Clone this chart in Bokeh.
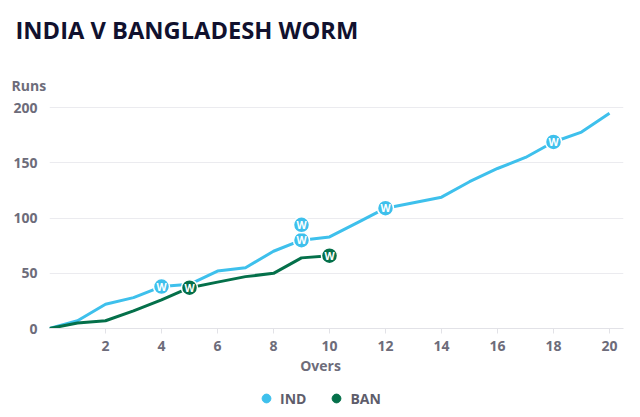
from bokeh.plotting import figure
from bokeh.layouts import column
from bokeh.models import (Legend, LegendItem, ColumnDataSource, FixedTicker, Range1d, Title, Label)
from bokeh.embed import file_html
from bokeh.resources import INLINE
from bokeh.core.properties import value

# ---- data ----
title_text = "INDIA V BANGLADESH WORM"
x_title = "Overs"
y_title = "Runs"
series_names = ["IND", "BAN"]

overs = list(range(0, 21))
ind_runs = [0, 7, 22, 28, 38, 40, 52, 55, 70, 80, 83, 96, 109, 114, 119, 133, 145, 155, 169, 178, 195]
ban_overs = list(range(0, 11))
ban_runs = [0, 5, 7, 16, 26, 37, 42, 47, 50, 64, 66]

ind_wkt_overs = [4, 9, 9, 12, 18]
ind_wkt_runs = [38, 80, 94, 109, 169]
ban_wkt_overs = [5, 10]
ban_wkt_runs = [37, 66]
wkt_label = "W"

x_ticks = [2, 4, 6, 8, 10, 12, 14, 16, 18, 20]
y_ticks = [0, 50, 100, 150, 200]

# ---- styles ----
IND_COLOR = "#3ec0ec"
BAN_COLOR = "#04704a"
GREY = "#6d6c7a"
TITLE_COLOR = "#11112e"
FONT = "Open Sans"

xr = Range1d(0, 20.5)

# ================= main chart =================
p = figure(width=640, height=354,
           x_range=xr, y_range=Range1d(0, 206.6),
           output_backend="svg", toolbar_location=None,
           min_border_left=49, min_border_right=17,
           min_border_top=100, min_border_bottom=26)
p.outline_line_color = None
p.background_fill_color = "white"
p.border_fill_color = "white"

p.xgrid.grid_line_color = None
p.ygrid.ticker = FixedTicker(ticks=y_ticks)
p.ygrid.grid_line_color = "#ebebef"
p.ygrid.grid_line_width = 1

xa = p.xaxis[0]
xa.ticker = FixedTicker(ticks=x_ticks)
xa.axis_line_color = "#e2e2e7"
xa.major_tick_line_color = "#e2e2e7"
xa.major_tick_out = 5
xa.major_tick_in = 0
xa.minor_tick_line_color = None
xa.major_label_standoff = 7
xa.major_label_text_font = FONT
xa.major_label_text_font_style = "bold"
xa.major_label_text_font_size = "14px"
xa.major_label_text_color = GREY

ya = p.yaxis[0]
ya.ticker = FixedTicker(ticks=y_ticks)
ya.axis_line_color = None
ya.major_tick_line_color = None
ya.minor_tick_line_color = None
ya.major_label_standoff = 6
ya.major_label_text_font = FONT
ya.major_label_text_font_style = "bold"
ya.major_label_text_font_size = "14px"
ya.major_label_text_color = GREY

# lines
p.line(x=overs, y=ind_runs, line_width=3, line_color=IND_COLOR, line_join="round")
p.line(x=ban_overs, y=ban_runs, line_width=3, line_color=BAN_COLOR, line_join="round")

# wicket markers
ind_src = ColumnDataSource(dict(x=ind_wkt_overs, y=ind_wkt_runs, t=[wkt_label] * len(ind_wkt_overs)))
ban_src = ColumnDataSource(dict(x=ban_wkt_overs, y=ban_wkt_runs, t=[wkt_label] * len(ban_wkt_overs)))
for src, col in ((ind_src, IND_COLOR), (ban_src, BAN_COLOR)):
    p.scatter(x="x", y="y", source=src, size=16, fill_color=col, line_color="white", line_width=1.5)
    p.text(x="x", y="y", text="t", source=src, text_align="center", text_baseline="middle",
           text_color="white", text_font=value(FONT), text_font_style="bold", text_font_size="10.5px")

# titles above (first added sits nearest the frame)
p.add_layout(Title(text=y_title, align="left", offset=-38, vertical_align="bottom", standoff=11,
                   text_font=FONT, text_font_style="bold", text_font_size="14px",
                   text_color=GREY), "above")
p.add_layout(Title(text=title_text, align="left", offset=-34, vertical_align="top", standoff=0,
                   padding=dict(left=0, right=0, top=6, bottom=21),
                   text_font=FONT, text_font_style="bold", text_font_size="23.7px",
                   text_color=TITLE_COLOR), "above")

# ================= footer: axis title + legend =================
f = figure(width=640, height=63, x_range=xr, y_range=Range1d(0, 63),
           output_backend="svg", toolbar_location=None,
           x_axis_location=None, y_axis_location=None,
           min_border_left=49, min_border_right=17, min_border_top=0, min_border_bottom=0)
f.outline_line_color = None
f.background_fill_color = "white"
f.border_fill_color = "white"
f.grid.visible = False

f.add_layout(Label(x=9.68, y=52, text=x_title, text_font=FONT, text_font_style="bold",
                   text_font_size="14px", text_color=GREY, text_align="center",
                   text_baseline="middle"))

r_ind = f.scatter(x=overs[:1], y=ind_runs[:1], size=9, fill_color=IND_COLOR, line_color=IND_COLOR)
r_ban = f.scatter(x=ban_overs[:1], y=ban_runs[:1], size=9, fill_color=BAN_COLOR, line_color=BAN_COLOR)
r_ind.visible = False
r_ban.visible = False
legend = Legend(items=[LegendItem(label=series_names[0], renderers=[r_ind]),
                       LegendItem(label=series_names[1], renderers=[r_ban])],
                location=(206, 8), orientation="horizontal",
                glyph_width=22, glyph_height=22, label_standoff=3, spacing=19,
                padding=0, margin=0, border_line_color=None, background_fill_alpha=0,
                inactive_fill_alpha=0,
                label_text_font=FONT, label_text_font_style="bold",
                label_text_font_size="14px", label_text_color="#5e5d6b")
f.add_layout(legend)

layout = column(p, f, spacing=0)
open("out.html", "w").write(file_html(layout, INLINE))
